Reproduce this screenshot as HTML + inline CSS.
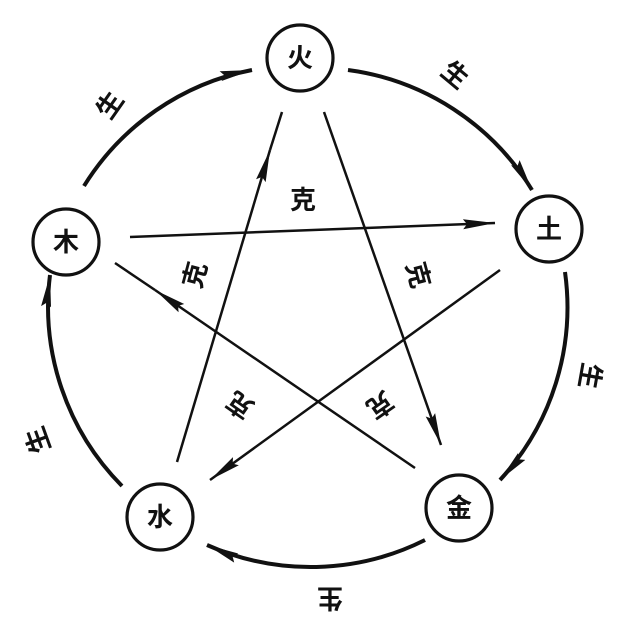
<!DOCTYPE html>
<html><head><meta charset="utf-8"><style>
html,body{margin:0;padding:0;background:#fff;}
svg{display:block}
text{font-family:"Liberation Sans","Noto Sans CJK SC",sans-serif;font-size:26px;font-weight:bold;fill:#111;text-anchor:middle;dominant-baseline:central}
</style></head><body>
<svg width="620" height="624" viewBox="0 0 620 624">
<defs>
<marker id="a" viewBox="0 0 32 12" refX="32" refY="6" markerWidth="32" markerHeight="12" markerUnits="userSpaceOnUse" orient="auto">
<path d="M0,1 L32,6 L0,11 L4,6 Z" fill="#111"/></marker>
</defs>
<g fill="none" stroke="#111" stroke-width="4">
<path d="M84,186 A255,255 0 0 1 252,70" marker-end="url(#a)"/>
<path d="M348,70 A255,255 0 0 1 532,190" marker-end="url(#a)"/>
<path d="M565,272 A255,255 0 0 1 500,480" marker-end="url(#a)"/>
<path d="M425,540 A255,255 0 0 1 207,545" marker-end="url(#a)"/>
<path d="M122,486 A255,255 0 0 1 50,275" marker-end="url(#a)"/>
</g>
<g fill="none" stroke="#111" stroke-width="2.5">
<path d="M130,237 L495,223" marker-end="url(#a)"/>
<path d="M324,112 L441,445" marker-end="url(#a)"/>
<path d="M500,270 L210,480" marker-end="url(#a)"/>
<path d="M415,468 L155,290" marker-end="url(#a)"/>
<path d="M155,290 L115,263"/>
<path d="M177,462 L270,150" marker-end="url(#a)"/>
<path d="M270,150 L282,112"/>
</g>
<g fill="#fff" stroke="#111" stroke-width="3.2">
<circle cx="300" cy="58" r="33"/>
<circle cx="549" cy="229" r="33"/>
<circle cx="459" cy="508" r="33"/>
<circle cx="160" cy="517" r="33"/>
<circle cx="66" cy="242" r="33"/>
</g>
<text x="300" y="58">火</text>
<text x="549" y="229">土</text>
<text x="459" y="508">金</text>
<text x="160" y="517">水</text>
<text x="66" y="242">木</text>
<text x="110" y="105" transform="rotate(-55 110 105)">生</text>
<text x="455" y="75" transform="rotate(40 455 75)">生</text>
<text x="590" y="376" transform="rotate(100 590 376)">生</text>
<text x="330" y="598" transform="rotate(180 330 598)">生</text>
<text x="38" y="440" transform="rotate(-110 38 440)">生</text>
<text x="303" y="200">克</text>
<text x="195" y="275" transform="rotate(-75 195 275)">克</text>
<text x="418" y="275" transform="rotate(75 418 275)">克</text>
<text x="240" y="405" transform="rotate(-145 240 405)">克</text>
<text x="380" y="405" transform="rotate(145 380 405)">克</text>
</svg>
</body></html>
